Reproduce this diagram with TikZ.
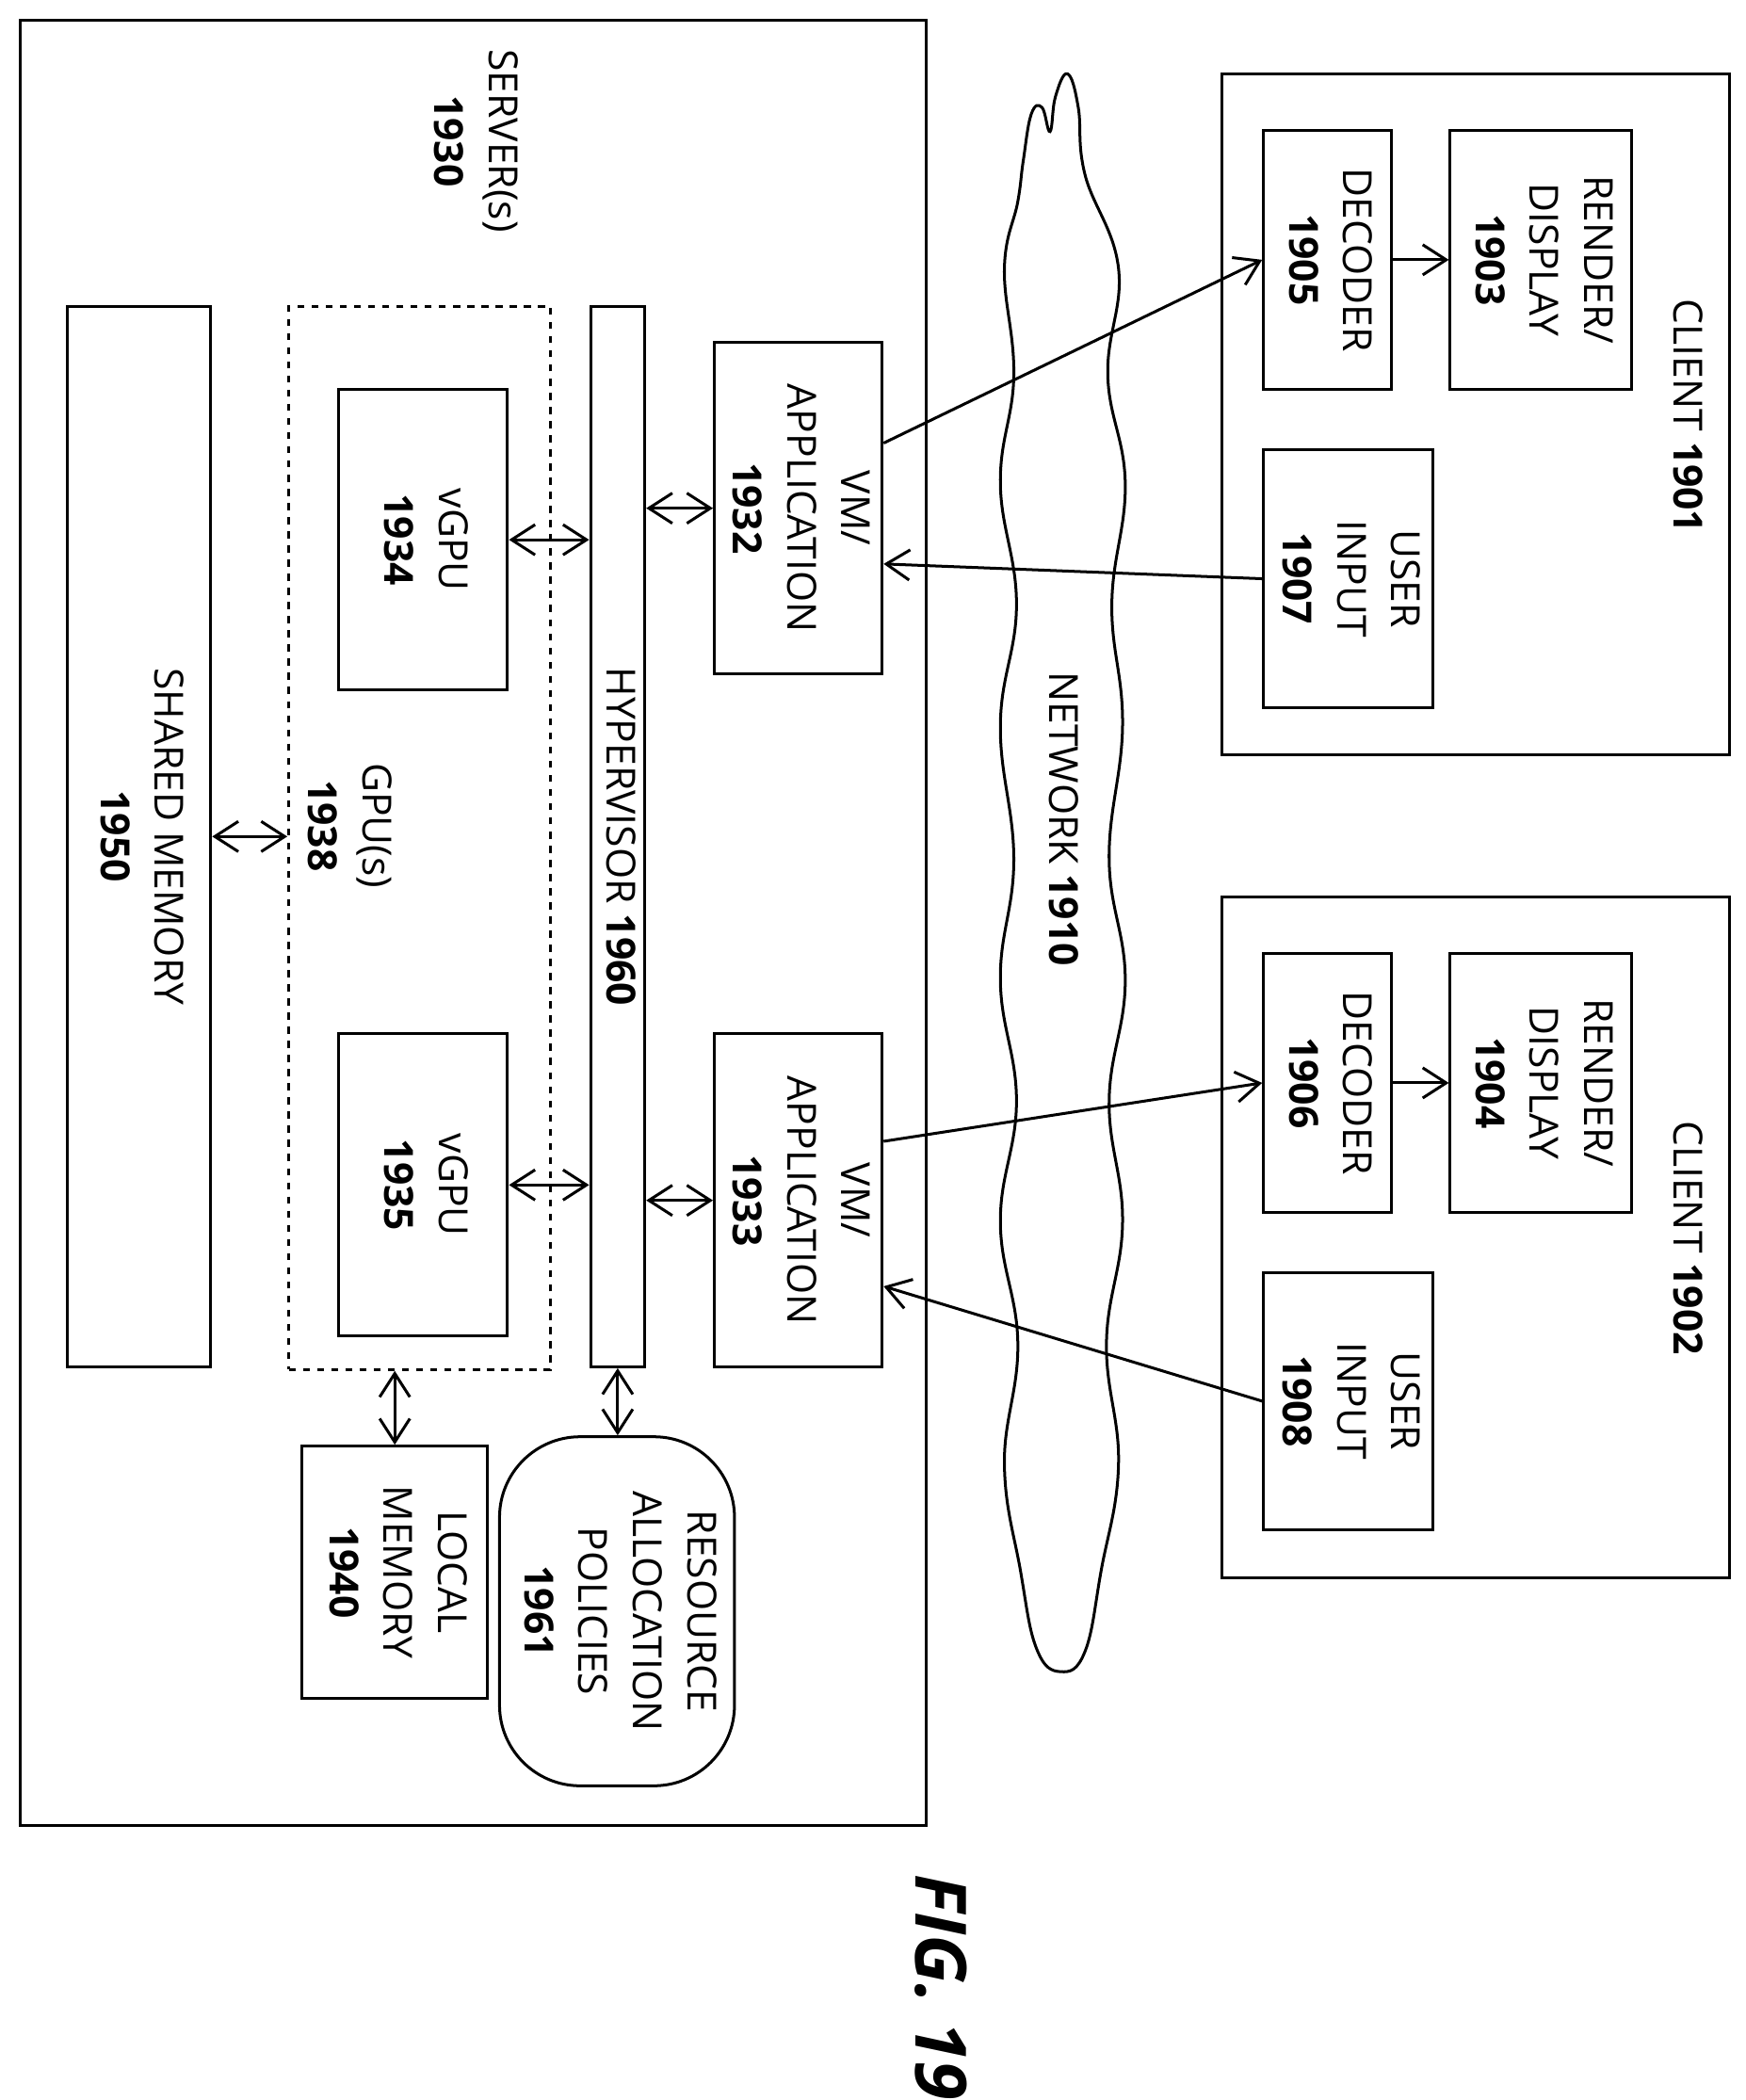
\documentclass[tikz,border=0pt]{standalone}
\usepackage{fontspec}
\setmainfont{Open Sans}
\usepackage{graphicx}
\usetikzlibrary{arrows.meta}

\newcommand{\rt}[1]{\rotatebox{-90}{\begin{tabular}{@{}c@{}}#1\end{tabular}}}

\tikzset{
  box/.style={draw, line width=1.2pt, inner sep=0pt, font=\fontsize{17}{23}\selectfont},
  lbl/.style={inner sep=0pt, font=\fontsize{17}{23}\selectfont},
  link/.style={line width=1.2pt, -{Straight Barb[length=3.5mm,width=4.5mm]}},
  dlink/.style={line width=1.2pt, {Straight Barb[length=3.5mm,width=4.5mm]}-{Straight Barb[length=3.5mm,width=4.5mm]}}
}

\begin{document}
\begin{tikzpicture}[x=0.02cm, y=-0.02cm]
            \useasboundingbox (0,0) rectangle (1300,1564);

            % Server

            \node[box, minimum width=13.5cm, minimum height=26.9cm] (srv) at (352.5,687.5) {};
            \node[lbl] (srvl) at (352,105) {\rt{SERVER(s)\\\textbf{1930}}};
            \node[box, minimum width=2.14cm, minimum height=15.8cm] (shm) at (103.5,623) {\rt{SHARED MEMORY\\\textbf{1950}}};
            \node[box, dashed, minimum width=3.9cm, minimum height=15.84cm] (gpu) at (312.5,624) {};
            \node[lbl] (gpul) at (258,615) {\rt{GPU(s)\\\textbf{1938}}};
            \node[box, minimum width=2.52cm, minimum height=4.48cm] (vg1) at (315,402) {\rt{vGPU\\\textbf{1934}}};
            \node[box, minimum width=2.52cm, minimum height=4.5cm] (vg2) at (315,882.5) {\rt{vGPU\\\textbf{1935}}};
            \node[box, minimum width=0.8cm, minimum height=15.8cm] (hyp) at (460,623) {\rt{HYPERVISOR \textbf{1960}}};
            \node[box, minimum width=2.5cm, minimum height=4.94cm] (vm1) at (594.5,378.5) {\rt{VM/\\APPLICATION\\\textbf{1932}}};
            \node[box, minimum width=2.5cm, minimum height=4.96cm] (vm2) at (594.5,894) {\rt{VM/\\APPLICATION\\\textbf{1933}}};
            \node[box, minimum width=2.76cm, minimum height=3.76cm] (lmem) at (294,1171) {\rt{LOCAL\\MEMORY\\\textbf{1940}}};
            \node[box, rounded corners=1.2cm, minimum width=3.5cm, minimum height=5.2cm] (rap) at (459.5,1200) {\rt{RESOURCE\\ALLOCATION\\POLICIES\\\textbf{1961}}};

            % Network

            \draw[line width=1.2pt] plot[smooth cycle, tension=0.7] coordinates {(762,120) (768,85) (776,80) (782,98) (786,72) (795,55) (803,80) (808,130) (833,200) (825,280) (838,360) (828,450) (836,540) (826,640) (838,730) (826,820) (836,910) (824,1000) (833,1090) (820,1170) (808,1230) (790,1245) (772,1228) (760,1170) (748,1090) (758,1000) (745,910) (757,820) (745,730) (755,640) (745,540) (757,450) (745,360) (755,280) (748,200) (758,150)};
            \node[lbl] (net) at (790,610) {\rt{NETWORK \textbf{1910}}};

            % Clients

            \node[box, minimum width=7.56cm, minimum height=10.14cm] (c1) at (1099,308.5) {};
            \node[lbl] (c1l) at (1255,310) {\rt{CLIENT \textbf{1901}}};
            \node[box, minimum width=1.9cm, minimum height=3.86cm] (dec1) at (988.5,193.5) {\rt{DECODER\\\textbf{1905}}};
            \node[box, minimum width=2.7cm, minimum height=3.86cm] (ren1) at (1147.5,193.5) {\rt{RENDER/\\DISPLAY\\\textbf{1903}}};
            \node[box, minimum width=2.52cm, minimum height=3.84cm] (in1) at (1004,431) {\rt{USER\\INPUT\\\textbf{1907}}};

            \node[box, minimum width=7.56cm, minimum height=10.14cm] (c2) at (1099,921.5) {};
            \node[lbl] (c2l) at (1255,922) {\rt{CLIENT \textbf{1902}}};
            \node[box, minimum width=1.9cm, minimum height=3.86cm] (dec2) at (988.5,806.5) {\rt{DECODER\\\textbf{1906}}};
            \node[box, minimum width=2.7cm, minimum height=3.86cm] (ren2) at (1147.5,806.5) {\rt{RENDER/\\DISPLAY\\\textbf{1904}}};
            \node[box, minimum width=2.52cm, minimum height=3.84cm] (in2) at (1004,1043.5) {\rt{USER\\INPUT\\\textbf{1908}}};

            \node[lbl, font=\fontsize{30}{36}\selectfont\bfseries\itshape] (fig) at (695,1480) {\rt{FIG. 19}};

            % Edges

            \draw[link] ([yshift=0.97cm]vm1.east) -- (dec1.west);
            \draw[link] (in1.west) -- ([yshift=-0.83cm]vm1.east);
            \draw[link] ([yshift=0.88cm]vm2.east) -- (dec2.west);
            \draw[link] (in2.west) -- ([yshift=-1.28cm]vm2.east);
            \draw[link] (dec1.east) -- (ren1.west);
            \draw[link] (dec2.east) -- (ren2.west);
            \draw[dlink] (vm1.west) -- (vm1.west -| hyp.east);
            \draw[dlink] (vm2.west) -- (vm2.west -| hyp.east);
            \draw[dlink] (vg1.east) -- (vg1.east -| hyp.west);
            \draw[dlink] (vg2.east) -- (vg2.east -| hyp.west);
            \draw[dlink] (shm.east) -- (shm.east -| gpu.west);
            \draw[dlink] (lmem.north |- gpu.south) -- (lmem.north);
            \draw[dlink] (hyp.south) -- (hyp.south |- rap.north);

\end{tikzpicture}
\end{document}
